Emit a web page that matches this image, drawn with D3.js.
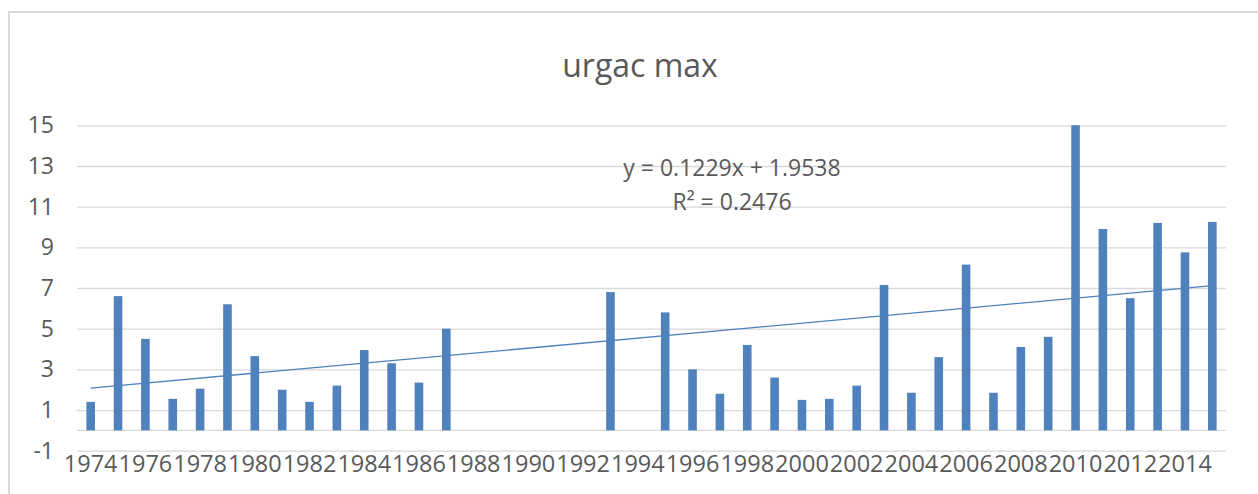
<!DOCTYPE html>
<html>
<head>
<meta charset="utf-8">
<script src="https://cdn.jsdelivr.net/npm/d3@7"></script>
<style>
  html, body { margin: 0; padding: 0; background: #ffffff; }
  svg { display: block; }
  text { font-family: "Open Sans", "Liberation Sans", sans-serif; fill: #595959; }
</style>
</head>
<body>
<svg id="chart" width="1258" height="494"></svg>
<script>
const title = "urgac max";
const years = [1974,1975,1976,1977,1978,1979,1980,1981,1982,1983,1984,1985,1986,1987,
  1988,1989,1990,1991,1992,1993,1994,1995,1996,1997,1998,1999,2000,2001,2002,2003,
  2004,2005,2006,2007,2008,2009,2010,2011,2012,2013,2014,2015];
const values = [1.4,6.6,4.5,1.55,2.05,6.2,3.65,2.0,1.4,2.2,3.95,3.3,2.35,5.0,
  null,null,null,null,null,6.8,null,5.8,3.0,1.8,4.2,2.6,1.5,1.55,2.2,7.15,
  1.85,3.6,8.15,1.85,4.1,4.6,15.0,9.9,6.5,10.2,8.75,10.25];
const yTicks = [-1,1,3,5,7,9,11,13,15];
const xTickLabels = [1974,1976,1978,1980,1982,1984,1986,1988,1990,1992,1994,1996,1998,
  2000,2002,2004,2006,2008,2010,2012,2014];
const trendSlope = 0.1229;
const trendIntercept = 1.9538;
const equationLines = ["y = 0.1229x + 1.9538", "R² = 0.2476"];

(function () {
const svg = d3.select("#chart");

// chart border
svg.append("rect")
  .attr("x", 9).attr("y", 12).attr("width", 1260).attr("height", 500)
  .attr("fill", "none").attr("stroke", "#d9d9d9").attr("stroke-width", 2);

const pL = 77, pR = 1226, pT = 125.3, pB = 450.7;
const pIn = 1 - 8.6 / ((pR - pL) / years.length);
const x = d3.scaleBand().domain(years).range([pL, pR])
  .paddingInner(pIn).paddingOuter(pIn / 2);
const y = d3.scaleLinear().domain([-1, 15]).range([pB, pT]);

// gridlines
const grid = svg.append("g").attr("transform", `translate(${pL},0)`)
  .call(d3.axisLeft(y).tickValues(yTicks).tickSize(-(pR - pL)).tickFormat(""));
grid.select(".domain").remove();
grid.selectAll(".tick line").attr("stroke", "#d9d9d9").attr("stroke-width", 1.3);

// horizontal axis line at 0
svg.append("line").attr("x1", pL).attr("x2", pR)
  .attr("y1", y(0)).attr("y2", y(0))
  .attr("stroke", "#d9d9d9").attr("stroke-width", 1.3);

// y labels
const yAxis = svg.append("g").attr("transform", `translate(54,0)`)
  .call(d3.axisLeft(y).tickValues(yTicks).tickSize(0).tickPadding(0)
    .tickFormat(d => String(d)));
yAxis.select(".domain").remove();
yAxis.selectAll("text").attr("font-size", 23).attr("fill", "#595959")
  .style("font-family", "'Open Sans', sans-serif");

// bars
const data = years.map((yr, i) => ({ yr, v: values[i] })).filter(d => d.v !== null);
svg.append("g").selectAll("rect").data(data).join("rect")
  .attr("x", d => x(d.yr))
  .attr("width", x.bandwidth())
  .attr("y", d => y(d.v))
  .attr("height", d => y(0) - y(d.v))
  .attr("fill", "#4f81bd");

// x labels
const xAxis = svg.append("g").attr("transform", `translate(0,${pB})`)
  .call(d3.axisBottom(x).tickValues(xTickLabels).tickSize(0).tickPadding(5));
xAxis.select(".domain").remove();
xAxis.selectAll("text").attr("font-size", 23.5).attr("fill", "#595959")
  .style("font-family", "'Open Sans', sans-serif");

// trendline
const n = years.length;
const trend = [
  { yr: years[0], v: trendSlope * 1 + trendIntercept },
  { yr: years[n - 1], v: trendSlope * n + trendIntercept }
];
svg.append("path")
  .datum(trend)
  .attr("d", d3.line().x(d => x(d.yr) + x.bandwidth() / 2).y(d => y(d.v)))
  .attr("fill", "none").attr("stroke", "#4f81bd").attr("stroke-width", 1.3);

// title
svg.append("text").attr("x", 640).attr("y", 77)
  .attr("text-anchor", "middle").attr("font-size", 32).text(title);

// equation label
svg.append("text").attr("x", 732).attr("y", 176)
  .attr("text-anchor", "middle").attr("font-size", 23).text(equationLines[0]);
svg.append("text").attr("x", 732).attr("y", 210)
  .attr("text-anchor", "middle").attr("font-size", 23).text(equationLines[1]);
})();
</script>
</body>
</html>
